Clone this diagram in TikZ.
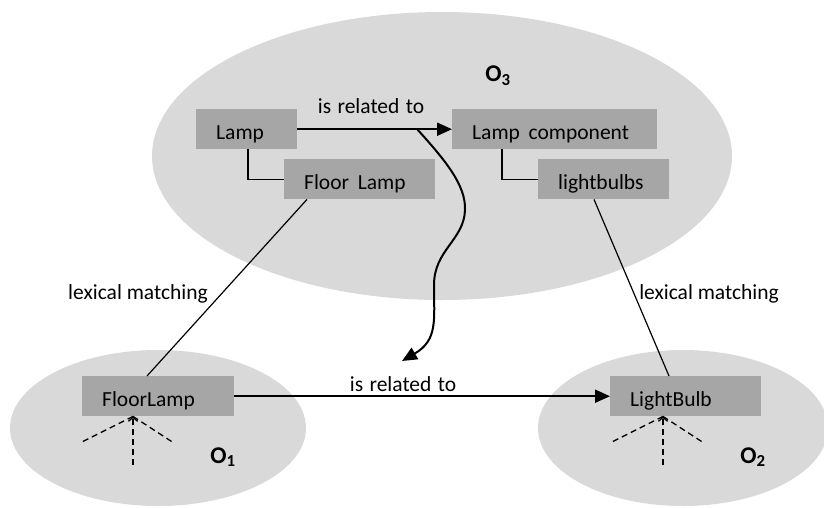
\documentclass[tikz,border=0pt]{standalone}
\usepackage{fontspec}
\setmainfont{Carlito}
\usetikzlibrary{arrows.meta}
\definecolor{ontofill}{HTML}{D9D9D9}
\definecolor{conceptfill}{HTML}{A6A6A6}
\newcommand{\gap}{~\kern1.5pt}
\tikzset{
  concept/.style={fill=conceptfill, anchor=north west, inner xsep=20pt, inner ysep=0pt,
    minimum height=40pt, text height=20pt, text depth=0pt, align=left},
  relarrow/.style={line width=2pt, -{Triangle[length=15pt,width=13pt]}},
  thinline/.style={line width=1.2pt},
  fan/.style={line width=1.3pt, dash pattern=on 6pt off 4pt},
  onto/.style={font=\fontsize{24}{28}\selectfont\bfseries}
}
\begin{document}
\begin{tikzpicture}[x=1pt, y=-1pt, font=\fontsize{21.5}{25}\selectfont]
  \useasboundingbox (0,0) rectangle (824,507);
  \clip (0,0) rectangle (824,507);
  % Ontologies
  \fill[ontofill] (442,156) ellipse [x radius=290, y radius=144];
  \fill[ontofill] (158,428) ellipse [x radius=148, y radius=78];
  \fill[ontofill] (683,428) ellipse [x radius=145, y radius=78];
  \node[onto] (o3) at (498,76) {O\textsubscript{3}};
  \node[onto] (o1) at (223,457) {O\textsubscript{1}};
  \node[onto] (o2) at (753,457) {O\textsubscript{2}};

  % Concepts
  \node[concept, text width=61pt] (lamp) at (196,109) {Lamp};
  \node[concept, text width=111pt] (floorlamp) at (284,159) {Floor\gap Lamp};
  \node[concept, text width=165pt] (lampcomp) at (452,109) {Lamp\gap component};
  \node[concept, text width=91pt] (bulbs) at (538,159) {lightbulbs};
  \node[concept, text width=112pt] (floorlampI) at (82,376) {FloorLamp};
  \node[concept, text width=111pt] (lightbulbII) at (610,376) {LightBulb};

  % Hierarchy in O3
  \draw[thinline] ([xshift=52pt]lamp.south west) |- (floorlamp.west);
  \draw[thinline] ([xshift=50pt]lampcomp.south west) |- (bulbs.west);

  % Relations
  \draw[relarrow] (lamp.east) -- (lampcomp.west);
  \node[anchor=base] (relIII) at (371,113) {is\gap related\gap to};
  \draw[relarrow] (floorlampI.east) -- (lightbulbII.west);
  \node[anchor=base] (relI) at (403,391) {is\gap related\gap to};

  % Lexical matching
  \draw[thinline] ([xshift=23pt]floorlamp.south west) -- ([xshift=65pt]floorlampI.north west);
  \draw[thinline] ([xshift=56pt]bulbs.south west) -- ([xshift=59pt]lightbulbII.north west);
  \node[anchor=base] (lexI) at (138,299) {lexical matching};
  \node[anchor=base] (lexII) at (709,299) {lexical matching};

  % Relation carried down
  \coordinate (wigstart) at (417,129);
  \coordinate (wigend) at (402,361);
  \draw[relarrow] (wigstart) .. controls (445,160) and (466,185) .. (465,210)
    .. controls (464,240) and (434,250) .. (434,285)
    .. controls (434,320) and (438,340) .. (wigend);

  % Unknown structure below
  \coordinate (tipI) at ([xshift=51pt]floorlampI.south west);
  \coordinate (tipII) at ([xshift=53pt]lightbulbII.south west);
  \foreach \t in {tipI,tipII}{
    \draw[fan] (\t) -- +(-52,26);
    \draw[fan] (\t) -- +(40,26);
    \draw[fan, -{Straight Barb[length=4pt,width=9pt]}] (\t) ++(0,49) -- (\t);
  }
\end{tikzpicture}
\end{document}
